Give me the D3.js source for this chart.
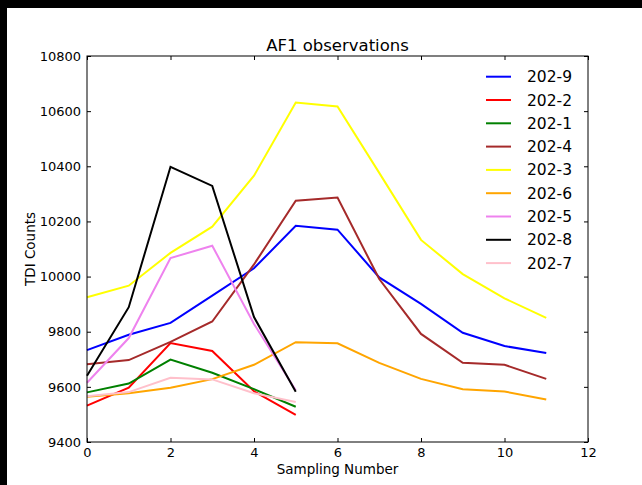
<!DOCTYPE html>
<html lang="en">
<head>
    <meta charset="utf-8">
    <title>AF1 observations</title>
    <style type="text/css">
        body { margin: 0; background: #fff; }
        svg text { font-family: "DejaVu Sans", sans-serif; fill: #000; }
    </style>
</head>
<body>
   <svg class="chart" width="642" height="485"></svg>

   <script src="https://d3js.org/d3.v7.min.js"></script>
   <script>
        // 数据
        var samples = [0, 1, 2, 3, 4, 5, 6, 7, 8, 9, 10, 11];
        var names   = ['202-9', '202-2', '202-1', '202-4', '202-3', '202-6', '202-5', '202-8', '202-7'];
        var colors  = ['#0000ff', '#ff0000', '#008000', '#a52a2a', '#ffff00', '#ffa500', '#ee82ee', '#000000', '#ffc0cb'];

        var s202_9 = [9733, 9789, 9832, 9931, 10030, 10184, 10170, 9997, 9901, 9796, 9748, 9723];
        var s202_2 = [9532, 9597, 9759, 9730, 9584, 9498];
        var s202_1 = [9580, 9612, 9699, 9651, 9592, 9528];
        var s202_4 = [9682, 9697, 9763, 9837, 10044, 10275, 10287, 9991, 9792, 9687, 9680, 9629];
        var s202_3 = [9925, 9967, 10086, 10181, 10366, 10631, 10617, 10376, 10133, 10009, 9921, 9850];
        var s202_6 = [9564, 9577, 9597, 9628, 9680, 9762, 9758, 9687, 9629, 9591, 9583, 9554];
        var s202_5 = [9615, 9777, 10067, 10112, 9828, 9588];
        var s202_8 = [9640, 9889, 10398, 10329, 9853, 9582];
        var s202_7 = [9566, 9581, 9633, 9627, 9577, 9545];

        var series = [s202_9, s202_2, s202_1, s202_4, s202_3, s202_6, s202_5, s202_8, s202_7];

        var xTicks = [0, 2, 4, 6, 8, 10, 12];
        var yTicks = [9400, 9600, 9800, 10000, 10200, 10400, 10600, 10800];

        var svg = d3.select('.chart'),
            width = +svg.attr('width'),
            height = +svg.attr('height'),
            plot = {left: 87, right: 588, top: 56, bottom: 442};

        // 黑边
        svg.append('rect').attr('x', 0).attr('y', 0).attr('width', width).attr('height', 8).attr('fill', '#000');
        svg.append('rect').attr('x', 0).attr('y', 0).attr('width', 7).attr('height', height).attr('fill', '#000');

        var x = d3.scaleLinear().domain([0, 12]).range([plot.left, plot.right]);
        var y = d3.scaleLinear().domain([9400, 10800]).range([plot.bottom, plot.top]);

        // 曲线
        var line = d3.line()
            .x(function(d, i) { return x(samples[i]); })
            .y(function(d) { return y(d); });

        var gLines = svg.append('g');
        series.forEach(function(s, k) {
            gLines.append('path')
                .attr('d', line(s))
                .attr('fill', 'none')
                .attr('stroke', colors[k])
                .attr('stroke-width', 2)
                .attr('stroke-linejoin', 'miter');
        });

        // 坐标轴 (刻度朝内)
        svg.append('g')
            .attr('transform', 'translate(0,' + plot.bottom + ')')
            .call(d3.axisBottom(x).tickValues(xTicks).tickSizeInner(-4).tickSizeOuter(0).tickPadding(6))
            .call(function(g) {
                g.select('.domain').remove();
                g.selectAll('text').attr('font-size', 13).attr('font-family', 'DejaVu Sans');
            });
        svg.append('g')
            .attr('transform', 'translate(0,' + plot.top + ')')
            .call(d3.axisTop(x).tickValues(xTicks).tickSizeInner(-4).tickSizeOuter(0).tickFormat(''))
            .call(function(g) { g.select('.domain').remove(); });
        svg.append('g')
            .attr('transform', 'translate(' + plot.left + ',0)')
            .call(d3.axisLeft(y).tickValues(yTicks).tickSizeInner(-4).tickSizeOuter(0).tickPadding(6).tickFormat(d3.format('d')))
            .call(function(g) {
                g.select('.domain').remove();
                g.selectAll('text').attr('font-size', 13).attr('font-family', 'DejaVu Sans');
            });
        svg.append('g')
            .attr('transform', 'translate(' + plot.right + ',0)')
            .call(d3.axisRight(y).tickValues(yTicks).tickSizeInner(-4).tickSizeOuter(0).tickFormat(''))
            .call(function(g) { g.select('.domain').remove(); });

        svg.selectAll('.tick line').attr('stroke', '#000');

        // 边框
        svg.append('rect')
            .attr('x', plot.left).attr('y', plot.top)
            .attr('width', plot.right - plot.left).attr('height', plot.bottom - plot.top)
            .attr('fill', 'none').attr('stroke', '#000').attr('stroke-width', 1);

        // 标题和轴标签
        svg.append('text')
            .attr('x', (plot.left + plot.right) / 2).attr('y', 51)
            .attr('text-anchor', 'middle').attr('font-size', 16.5)
            .text('AF1 observations');
        svg.append('text')
            .attr('x', (plot.left + plot.right) / 2).attr('y', 474)
            .attr('text-anchor', 'middle').attr('font-size', 13.5)
            .text('Sampling Number');
        svg.append('text')
            .attr('transform', 'translate(35,' + ((plot.top + plot.bottom) / 2) + ') rotate(-90)')
            .attr('text-anchor', 'middle').attr('font-size', 13.5)
            .text('TDI Counts');

        // 图例
        var legend = svg.append('g').selectAll('g')
            .data(names)
            .enter()
            .append('g')
            .attr('transform', function(d, i) { return 'translate(486,' + (76.7 + i * 23.3) + ')'; });
        legend.append('line')
            .attr('x1', 0).attr('x2', 25)
            .attr('stroke', function(d, i) { return colors[i]; })
            .attr('stroke-width', 2);
        legend.append('text')
            .attr('x', 41).attr('dy', '0.36em')
            .attr('font-size', 15.5)
            .text(function(d) { return d; });
   </script>
</body>
</html>
